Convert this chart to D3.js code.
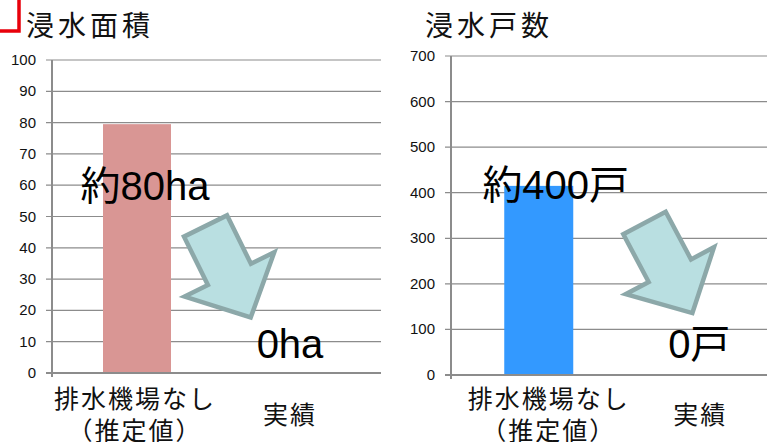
<!DOCTYPE html>
<html>
<head>
<meta charset="utf-8">
<script src="https://cdn.jsdelivr.net/npm/d3@7"></script>
<style>
  html, body { margin: 0; padding: 0; background: #fff; }
  svg { display: block; }
  .tick-label { font-family: "Liberation Sans", "Noto Sans CJK JP", sans-serif; font-size: 15px; fill: #111; }
  .title { font-family: "Noto Sans CJK JP", sans-serif; font-size: 28px; letter-spacing: 4px; fill: #111; }
  .cat { font-family: "Noto Sans CJK JP", sans-serif; font-size: 25px; letter-spacing: 2px; fill: #111; }
  .note { font-family: "Liberation Sans", "Noto Sans CJK JP", sans-serif; font-size: 40px; fill: #000; }
</style>
</head>
<body>
<div id="chart"></div>
<script>
// ---- data ----
const CATEGORIES = ['排水機場なし（推定値）', '実績'];
const CATEGORY_LINES = [['排水機場なし', '（推定値）'], ['実績']];
const AREA_VALUES = [79.5, 0];
const HOUSE_VALUES = [415, 0];
const AREA_TICKS = [0, 10, 20, 30, 40, 50, 60, 70, 80, 90, 100];
const HOUSE_TICKS = [0, 100, 200, 300, 400, 500, 600, 700];
const AREA_NOTES = ['約80ha', '0ha'];
const HOUSE_NOTES = ['約400戸', '0戸'];

const W = 776, H = 442;
const GRID = '#8c8c8c';

const svg = d3.select('#chart').append('svg')
    .attr('width', W).attr('height', H);

// red corner mark, top left
svg.append('path')
    .attr('d', 'M0,31 H19 V0')
    .attr('fill', 'none').attr('stroke', '#e8000b').attr('stroke-width', 3.5);

// arrow in local frame, pointing along +x
function arrowPath(len, shaftHalf, headHalf, headLen) {
    const b = len - headLen;
    return 'M0,' + (-shaftHalf) + ' L' + b + ',' + (-shaftHalf) + ' L' + b + ',' + (-headHalf) +
        ' L' + len + ',0 L' + b + ',' + headHalf + ' L' + b + ',' + shaftHalf + ' L0,' + shaftHalf + ' Z';
}

function drawChart(cfg) {
    const g = svg.append('g');
    const y = d3.scaleLinear().domain([0, cfg.ticks[cfg.ticks.length - 1]]).range([cfg.y0, cfg.y1]);
    const x = d3.scalePoint().domain(CATEGORIES).range(cfg.xRange).padding(0.5);

    // gridlines + ticks
    g.append('g').selectAll('line').data(cfg.ticks.slice(1)).enter().append('line')
        .attr('x1', cfg.axisX - 6).attr('x2', cfg.right)
        .attr('y1', d => y(d)).attr('y2', d => y(d))
        .attr('stroke', GRID).attr('stroke-width', 1.2);

    g.append('g').selectAll('text').data(cfg.ticks).enter().append('text')
        .attr('class', 'tick-label')
        .attr('x', cfg.axisX - 16).attr('y', d => y(d) + 5)
        .attr('text-anchor', 'end')
        .text(d => d);

    // bars
    g.append('g').selectAll('rect').data(cfg.values).enter().append('rect')
        .attr('x', (d, i) => x(CATEGORIES[i]) - cfg.barW / 2)
        .attr('width', cfg.barW)
        .attr('y', d => y(d))
        .attr('height', d => y(0) - y(d))
        .attr('fill', cfg.color);

    // axes
    g.append('line').attr('x1', cfg.axisX).attr('x2', cfg.axisX)
        .attr('y1', y.range()[1]).attr('y2', y(0) + 4)
        .attr('stroke', GRID).attr('stroke-width', 2);
    g.append('line').attr('x1', cfg.axisX - 6).attr('x2', cfg.right)
        .attr('y1', y(0)).attr('y2', y(0))
        .attr('stroke', GRID).attr('stroke-width', 2);

    // title
    g.append('text').attr('class', 'title')
        .attr('x', cfg.titleX).attr('y', 36).text(cfg.title);

    // category labels
    CATEGORY_LINES.forEach(function (lines, i) {
        const t = g.append('text').attr('class', 'cat').attr('text-anchor', 'middle');
        const cx = x(CATEGORIES[i]) + cfg.catDx[i];
        const top = lines.length > 1 ? 408 : 424;
        lines.forEach(function (s, j) {
            t.append('tspan').attr('x', cx).attr('y', top + j * 32).text(s);
        });
    });

    // arrow
    g.append('path')
        .attr('d', arrowPath(102, 24, 50, 48))
        .attr('transform', 'translate(' + cfg.arrow[0] + ',' + cfg.arrow[1] + ') rotate(' + cfg.arrow[2] + ')')
        .attr('fill', '#b9dfe1').attr('stroke', '#8ca8a9').attr('stroke-width', 4.5)
        .attr('stroke-linejoin', 'miter');

    // value notes
    g.append('g').selectAll('text').data(cfg.notes).enter().append('text')
        .attr('class', 'note')
        .attr('text-anchor', 'middle')
        .attr('x', (d, i) => x(CATEGORIES[i]) + cfg.noteDx[i])
        .attr('y', (d, i) => cfg.noteY[i])
        .text(d => d);
}

drawChart({
    title: '浸水面積', titleX: 26,
    values: AREA_VALUES, ticks: AREA_TICKS, notes: AREA_NOTES,
    color: '#d99694',
    axisX: 52, right: 381, y0: 373, y1: 60,
    xRange: [60.5, 366.5], barW: 68,
    catDx: [-2, 0], noteDx: [8, 0], noteY: [200, 358],
    arrow: [205.5, 226, 63.7]
});

drawChart({
    title: '浸水戸数', titleX: 425,
    values: HOUSE_VALUES, ticks: HOUSE_TICKS, notes: HOUSE_NOTES,
    color: '#3399ff',
    axisX: 451, right: 767, y0: 375, y1: 56,
    xRange: [458, 781], barW: 69,
    catDx: [10, 0], noteDx: [17, -1], noteY: [199, 358],
    arrow: [644.5, 223, 62]
});
</script>
</body>
</html>
